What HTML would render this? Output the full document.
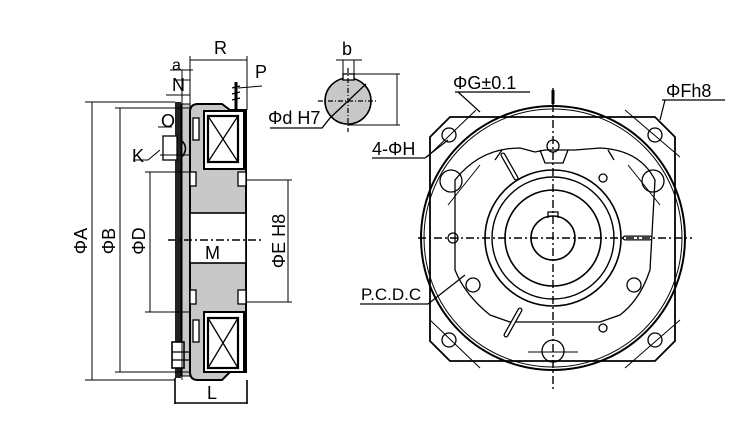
<!DOCTYPE html>
<html><head><meta charset="utf-8"><style>
html,body{margin:0;padding:0;background:#fff}
svg{display:block}
text{font-family:"Liberation Sans",sans-serif;fill:#000}
</style></head><body>
<svg width="735" height="421" viewBox="0 0 735 421" xmlns="http://www.w3.org/2000/svg">
<g stroke="#000" fill="none" stroke-width="1.3">
<rect x="175" y="102" width="6" height="276" fill="#222" stroke="none"/>
<rect x="181" y="104" width="9" height="272" fill="#c8c8c8" stroke="#000" stroke-width="1"/>
<path d="M190 112 Q190 104 198 104 L222 104 L230 110 L246 110 L246 372 L230 372 L222 380 L198 380 Q190 380 190 372 Z" fill="#c8c8c8" stroke-width="2"/>
<rect x="204" y="111" width="40" height="58" fill="#fff" stroke-width="2"/>
<rect x="208" y="116" width="30" height="46" fill="#fff" stroke-width="2.2"/>
<path d="M208 116 L238 162 M238 116 L208 162"/>
<rect x="204" y="312" width="40" height="60" fill="#fff" stroke-width="2"/>
<rect x="208" y="318" width="30" height="50" fill="#fff" stroke-width="2.2"/>
<path d="M208 318 L238 368 M238 318 L208 368"/>
<rect x="190" y="213" width="56" height="50" fill="#fff" stroke-width="1.6"/>
<rect x="190" y="172" width="6" height="14" fill="#fff"/>
<rect x="238" y="172" width="8" height="14" fill="#fff"/>
<rect x="190" y="290" width="6" height="14" fill="#fff"/>
<rect x="238" y="290" width="8" height="14" fill="#fff"/>
<rect x="193" y="118" width="6" height="22" fill="#fff"/>
<rect x="193" y="320" width="6" height="22" fill="#fff"/>
<rect x="163" y="136" width="14" height="24" fill="#fff"/>
<path d="M181 140 Q190 148 181 158" stroke-width="1.6"/>
<rect x="172" y="342" width="12" height="26" fill="#fff" stroke-width="1.6"/>
<path d="M172 352 L190 352 M172 360 L190 360"/>
<path d="M236 110 L236 82" stroke-width="3"/>
<path d="M232 88 L240 86 M232 94 L240 92 M232 100 L240 98"/>
<path d="M175 102 L85 102 M175 380 L85 380 M92 102 L92 380" stroke-width="1"/>
<path d="M190 108 L115 108 M190 372 L115 372 M120 108 L120 372" stroke-width="1"/>
<path d="M190 172 L145 172 M190 312 L145 312 M150 172 L150 312" stroke-width="1"/>
<path d="M246 180 L292 180 M246 302 L292 302 M288 180 L288 302" stroke-width="1"/>
<path d="M190 110 L190 56 M247 110 L247 56 M190 60 L247 60" stroke-width="1"/>
<path d="M175 378 L175 404 M247 380 L247 404 M175 403 L247 403" stroke-width="1.6"/>
<path d="M170 70 L193 70 M182 70 L182 380 M175 80 L190 80 M166 95 L190 95" stroke-width="1"/>
<path d="M158 127 L172 127 M160 155 L190 155" stroke-width="1"/>
<path d="M238 88 L262 86" stroke-width="1"/>
<path d="M133 160 L148 160 L160 150" stroke-width="1"/>
<path d="M168 240 L262 240" stroke-dasharray="8 3 2 3" stroke-width="1.4"/>
<circle cx="348" cy="101" r="23" fill="#c8c8c8" stroke-width="1.6"/>
<rect x="343" y="74" width="11" height="6" fill="#fff"/>
<path d="M343 74 L343 60 M354 74 L354 60 M336 60 L362 60" stroke-width="1"/>
<path d="M354 74 L400 74 M348 125 L400 125 M397 74 L397 125" stroke-width="1"/>
<path d="M348 68 L348 132 M318 101 L376 101" stroke-dasharray="5 2 1 2" stroke-width="1.2"/>
<path d="M366 84 L330 118 L322 128 L270 128" stroke-width="1.3"/>
<path d="M450 117 L655 117 L675 137 L675 341 L655 361 L450 361 L430 341 L430 137 Z" stroke-width="1.8"/>
<circle cx="553" cy="238" r="132" stroke-width="2"/>
<circle cx="553" cy="238" r="129" stroke-width="1"/>
<circle cx="553" cy="238" r="68" stroke-width="1.6"/>
<circle cx="553" cy="238" r="61" stroke-width="1.4"/>
<circle cx="553" cy="238" r="48" stroke-width="1.6"/>
<path d="M548 218 L548 212 L558 212 L558 218" />
<circle cx="553" cy="238" r="22" stroke-width="1.6"/>
<path d="M455 180 Q480 148 520 148 L535 152 L545 150 L560 150 L575 150 L600 148 Q640 150 655 180 L650 270 Q640 300 620 315 L600 322 L510 322 L490 315 Q465 295 455 270 Z" stroke-width="1.3"/>
<path d="M540 150 L545 163 L563 163 L568 150" />
<path d="M502 150 L495 160 M608 150 L614 160"/>
<path d="M503 155 L516 178 M520 310 L506 335" stroke-width="5" stroke-linecap="round"/>
<path d="M503 155 L516 178 M520 310 L506 335" stroke="#fff" stroke-width="2.5" stroke-linecap="round"/>
<path d="M625 238 L650 238" stroke-width="5" stroke-linecap="round"/>
<path d="M625 238 L650 238" stroke="#fff" stroke-width="2.5" stroke-linecap="round"/>
<circle cx="449" cy="135" r="7"/><circle cx="655" cy="135" r="7"/>
<circle cx="449" cy="340" r="7"/><circle cx="655" cy="340" r="7"/>
<circle cx="451" cy="181" r="11"/><circle cx="653" cy="181" r="11"/>
<circle cx="553" cy="146" r="6"/><circle cx="553" cy="351" r="11"/>
<circle cx="453" cy="238" r="5"/>
<circle cx="473" cy="285" r="7"/><circle cx="634" cy="285" r="7"/>
<circle cx="603" cy="178" r="4"/><circle cx="603" cy="328" r="4"/>
<path d="M427 157 L476 110 M680 157 L625 110 M430 320 L480 368 M680 320 L625 368" stroke-width="1"/>
<path d="M448 205 L480 165 M660 205 L628 165 M528 352 L578 352" stroke-width="1"/>
<path d="M553 88 L553 390 M418 238 L692 238" stroke-dasharray="8 3 2 3" stroke-width="1.4"/>
<path d="M553 104 L553 90" stroke-width="3"/>
<path d="M455 92 L530 92 M458 92 L480 112" stroke-width="1.2"/>
<path d="M662 100 L725 100 M665 100 L660 120" stroke-width="1.2"/>
<path d="M372 158 L425 158 L448 140" stroke-width="1.2"/>
<path d="M360 304 L428 304 L465 275" stroke-width="1.2"/>
</g>
<g font-size="18">
<text x="214" y="54">R</text>
<text x="172" y="70" font-size="16">a</text>
<text x="172" y="91">N</text>
<text x="255" y="78">P</text>
<text x="161" y="127">O</text>
<text x="132" y="162">K</text>
<text x="205" y="259">M</text>
<text x="207" y="399">L</text>
<text x="342" y="55">b</text>
<text x="268" y="124">Φd H7</text>
<text x="453" y="89">ΦG±0.1</text>
<text x="666" y="97">ΦFh8</text>
<text x="372" y="155">4-ΦH</text>
<text x="361" y="300" font-size="17">P.C.D.C</text>
<text transform="translate(87,241) rotate(-90)" text-anchor="middle">ΦA</text>
<text transform="translate(115,241) rotate(-90)" text-anchor="middle">ΦB</text>
<text transform="translate(145,241) rotate(-90)" text-anchor="middle">ΦD</text>
<text transform="translate(285,241) rotate(-90)" text-anchor="middle">ΦE H8</text>
</g>
</svg>
</body></html>
